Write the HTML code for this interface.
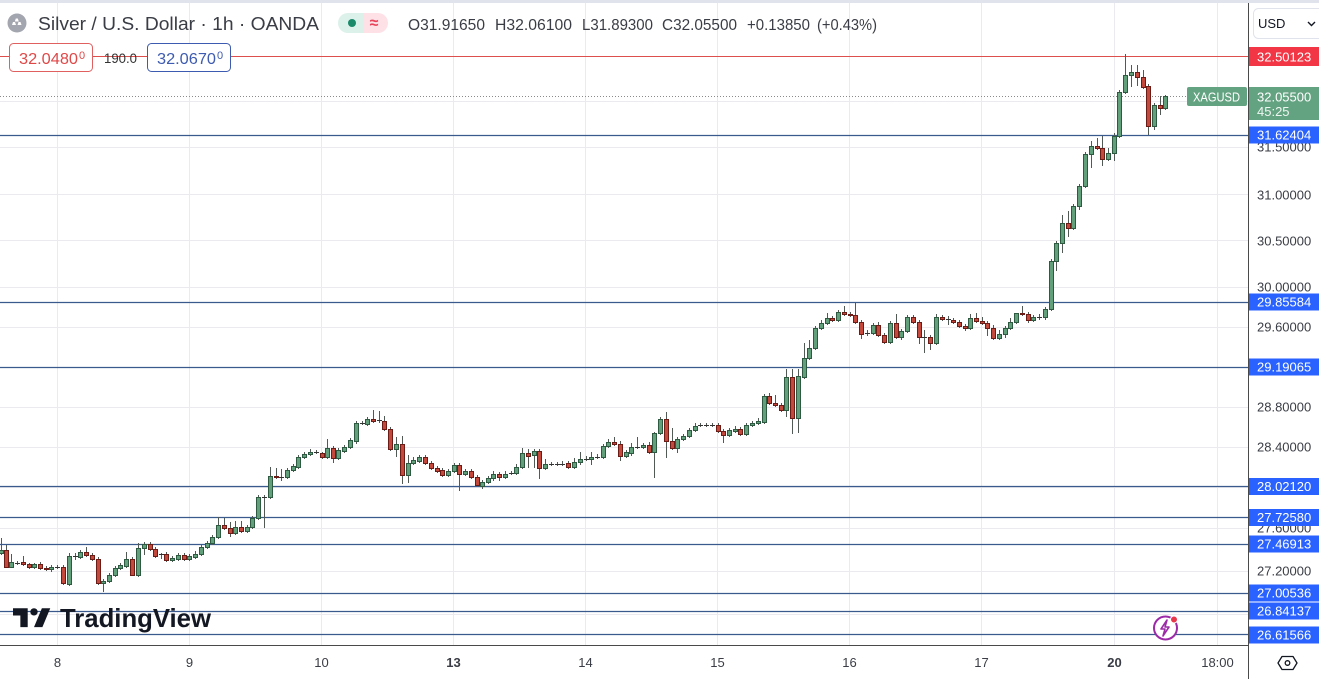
<!DOCTYPE html>
<html><head><meta charset="utf-8"><style>
html,body{margin:0;padding:0;background:#fff;overflow:hidden}
svg{display:block}
text{font-family:"Liberation Sans",sans-serif}
</style></head><body>
<svg width="1319" height="679" viewBox="0 0 1319 679" xmlns="http://www.w3.org/2000/svg">
<rect x="0" y="0" width="1319" height="679" fill="#fff"/>
<rect x="0" y="0" width="1319" height="3" fill="#e0e3eb"/>
<!-- grid -->
<g stroke="#ebebef" stroke-width="1">
<path d="M0 101.5H1248M0 147.5H1248M0 194.5H1248M0 240.5H1248M0 287.5H1248M0 327.5H1248M0 367.5H1248M0 407.5H1248M0 447.5H1248M0 487.5H1248M0 528.5H1248M0 571.5H1248M0 614.5H1248"/>
<path d="M57.5 3V645M189.5 3V645M321.5 3V645M453.5 3V645M585.5 3V645M717.5 3V645M849.5 3V645M981.5 3V645M1114.5 3V645M1217.5 3V645"/>
</g>
<!-- horizontal lines -->
<path d="M0 56.5H1248" stroke="#dc4f4c" stroke-width="1"/>
<path d="M0 96.5H1248" stroke="#8a8a8a" stroke-width="1" stroke-dasharray="1 2"/>
<g stroke="#3a5a8e" stroke-width="1.2">
<path d="M0 135.5H1248M0 302.5H1248M0 367.5H1248M0 486.5H1248M0 517.5H1248M0 544.5H1248M0 593.5H1248M0 611.5H1248M0 634.5H1248"/>
</g>
<!-- wicks -->
<g transform="translate(0.5,0)" stroke="#525a55" stroke-width="1" fill="none">
<path d="M1 538V555M6 545V568M11 554V568M17 561V565M23 556V566M29 563V569M34 563V569M40 562V570M46 566V571M51 565V572M57 565V569M63 565V585M69 553V586M75 553V560M80 550V559M86 547V557M92 553V561M98 557V585M103 579V592M109 573V583M115 566V577M120 563V570M126 552V568M132 557V576M138 543V577M144 542V555M150 542V551M155 547V558M161 553V559M166 552V562M172 556V562M178 553V561M184 553V561M189 554V561M195 551V559M201 545V556M207 541V549M212 535V545M218 517V539M224 518V530M230 522V537M235 521V535M241 521V533M247 525V533M252 516V529M258 495V520M264 495V528M270 467V499M276 468V479M281 469V481M287 468V479M293 464V472M298 455V469M304 452V459M310 449V456M316 450V454M322 452V459M327 439V459M333 446V463M338 448V460M344 445V453M350 438V449M356 421V444M362 421V425M367 417V426M373 410V423M379 411V423M384 416V431M390 427V451M396 437V457M402 436V484M408 455V483M413 457V465M419 455V463M425 455V465M431 461V470M437 466V473M442 468V477M448 469V477M454 463V473M459 463V491M465 469V476M471 469V479M477 475V487M482 480V489M488 476V484M493 471V481M499 472V481M505 471V479M511 471V475M516 464V475M522 448V469M528 449V468M534 449V468M539 449V479M545 459V470M551 462V466M557 462V466M562 461V466M568 461V469M574 458V469M580 452V465M586 456V461M591 452V465M597 454V459M603 444V459M608 439V448M614 437V446M620 441V461M626 450V458M631 443V456M637 437V449M643 443V449M649 442V454M654 432V478M660 417V435M666 412V458M672 428V450M677 437V453M683 434V441M689 428V438M695 423V432M700 423V427M706 423V427M712 423V427M718 423V433M723 429V443M729 428V437M735 426V433M740 427V436M746 423V436M752 421V427M758 418V425M764 394V424M769 393V405M775 395V407M781 403V412M786 369V417M792 369V434M798 369V433M804 343V379M809 340V360M815 326V350M821 320V330M827 313V325M832 316V322M838 310V322M844 306V316M850 312V317M855 303V324M861 320V339M867 330V336M873 323V335M878 322V337M884 333V344M890 321V344M896 314V339M901 329V340M907 315V333M913 315V324M919 320V344M924 330V353M930 335V350M936 314V345M942 315V321M948 316V325M953 318V324M959 320V328M965 324V331M970 314V330M976 313V323M982 317V325M987 321V336M993 325V340M999 330V340M1005 326V338M1010 318V330M1016 313V324M1022 306V316M1028 312V323M1033 315V322M1039 314V320M1045 307V320M1051 259V311M1056 241V271M1062 215V253M1068 211V237M1073 204V230M1079 184V210M1085 152V188M1091 141V168M1097 138V150M1102 136V166M1108 148V161M1114 133V161M1119 90V138M1125 54V94M1131 65V87M1137 65V86M1143 70V89M1148 84V135M1154 103V130M1160 96V115M1165 95V110"/>
</g>
<!-- dojis -->
<g transform="translate(0,0.5)" stroke="#333" stroke-width="1">
<path d="M15 563H20M55 567H60M73 556H78M159 554H164M262 497H267M279 477H284M314 452H319M360 423H365M377 420H382M509 473H514M549 464H554M555 464H560M560 464H565M584 459H589M595 457H600M635 447H640M698 425H703M704 425H709M710 425H715M865 333H870M922 337H927M946 319H951M1037 317H1042"/>
</g>
<!-- green bodies -->
<g transform="translate(0.5,0.5)" fill="#62a07c" stroke="#2d5a41" stroke-width="1">
<rect x="-1" y="550" width="4" height="3"/><rect x="9" y="562" width="4" height="5"/><rect x="32" y="564" width="4" height="3"/><rect x="49" y="567" width="4" height="2"/><rect x="67" y="556" width="4" height="28"/><rect x="78" y="552" width="4" height="5"/><rect x="101" y="581" width="4" height="2"/><rect x="107" y="575" width="4" height="6"/><rect x="113" y="568" width="4" height="7"/><rect x="118" y="565" width="4" height="3"/><rect x="124" y="559" width="4" height="7"/><rect x="136" y="548" width="4" height="27"/><rect x="142" y="544" width="4" height="4"/><rect x="170" y="558" width="4" height="2"/><rect x="176" y="555" width="4" height="4"/><rect x="187" y="556" width="4" height="3"/><rect x="193" y="554" width="4" height="3"/><rect x="199" y="547" width="4" height="7"/><rect x="205" y="543" width="4" height="4"/><rect x="210" y="537" width="4" height="6"/><rect x="216" y="525" width="4" height="12"/><rect x="233" y="527" width="4" height="6"/><rect x="245" y="527" width="4" height="4"/><rect x="250" y="518" width="4" height="9"/><rect x="256" y="497" width="4" height="21"/><rect x="268" y="476" width="4" height="21"/><rect x="285" y="470" width="4" height="7"/><rect x="291" y="466" width="4" height="4"/><rect x="296" y="457" width="4" height="10"/><rect x="302" y="454" width="4" height="3"/><rect x="308" y="452" width="4" height="2"/><rect x="325" y="448" width="4" height="9"/><rect x="336" y="450" width="4" height="8"/><rect x="342" y="447" width="4" height="4"/><rect x="348" y="440" width="4" height="7"/><rect x="354" y="423" width="4" height="18"/><rect x="365" y="419" width="4" height="5"/><rect x="394" y="444" width="4" height="5"/><rect x="406" y="463" width="4" height="12"/><rect x="411" y="460" width="4" height="3"/><rect x="417" y="457" width="4" height="4"/><rect x="446" y="471" width="4" height="4"/><rect x="452" y="465" width="4" height="6"/><rect x="463" y="471" width="4" height="3"/><rect x="480" y="482" width="4" height="4"/><rect x="486" y="478" width="4" height="4"/><rect x="491" y="474" width="4" height="4"/><rect x="503" y="474" width="4" height="3"/><rect x="514" y="467" width="4" height="6"/><rect x="520" y="453" width="4" height="14"/><rect x="532" y="451" width="4" height="4"/><rect x="543" y="464" width="4" height="4"/><rect x="572" y="462" width="4" height="5"/><rect x="578" y="459" width="4" height="3"/><rect x="589" y="457" width="4" height="2"/><rect x="601" y="446" width="4" height="11"/><rect x="606" y="442" width="4" height="4"/><rect x="624" y="452" width="4" height="4"/><rect x="629" y="447" width="4" height="6"/><rect x="641" y="445" width="4" height="2"/><rect x="652" y="433" width="4" height="19"/><rect x="658" y="419" width="4" height="14"/><rect x="675" y="439" width="4" height="9"/><rect x="681" y="436" width="4" height="3"/><rect x="687" y="430" width="4" height="6"/><rect x="693" y="426" width="4" height="4"/><rect x="727" y="430" width="4" height="5"/><rect x="733" y="429" width="4" height="2"/><rect x="744" y="425" width="4" height="9"/><rect x="750" y="423" width="4" height="2"/><rect x="756" y="421" width="4" height="2"/><rect x="762" y="396" width="4" height="26"/><rect x="784" y="377" width="4" height="33"/><rect x="796" y="376" width="4" height="42"/><rect x="802" y="358" width="4" height="19"/><rect x="807" y="348" width="4" height="10"/><rect x="813" y="328" width="4" height="20"/><rect x="819" y="323" width="4" height="5"/><rect x="825" y="318" width="4" height="5"/><rect x="836" y="312" width="4" height="8"/><rect x="871" y="325" width="4" height="8"/><rect x="888" y="323" width="4" height="19"/><rect x="899" y="331" width="4" height="6"/><rect x="905" y="317" width="4" height="14"/><rect x="934" y="317" width="4" height="26"/><rect x="968" y="318" width="4" height="10"/><rect x="997" y="334" width="4" height="4"/><rect x="1003" y="328" width="4" height="6"/><rect x="1008" y="322" width="4" height="6"/><rect x="1014" y="313" width="4" height="9"/><rect x="1031" y="317" width="4" height="3"/><rect x="1043" y="309" width="4" height="8"/><rect x="1049" y="261" width="4" height="48"/><rect x="1054" y="243" width="4" height="18"/><rect x="1060" y="223" width="4" height="20"/><rect x="1071" y="206" width="4" height="22"/><rect x="1077" y="186" width="4" height="20"/><rect x="1083" y="154" width="4" height="32"/><rect x="1089" y="146" width="4" height="8"/><rect x="1106" y="153" width="4" height="6"/><rect x="1112" y="136" width="4" height="17"/><rect x="1117" y="92" width="4" height="44"/><rect x="1123" y="75" width="4" height="17"/><rect x="1129" y="72" width="4" height="3"/><rect x="1152" y="105" width="4" height="21"/><rect x="1163" y="96" width="4" height="12"/>
</g>
<!-- red bodies -->
<g transform="translate(0.5,0.5)" fill="#c5483d" stroke="#6b1c16" stroke-width="1">
<rect x="4" y="550" width="4" height="17"/><rect x="21" y="562" width="4" height="2"/><rect x="27" y="564" width="4" height="3"/><rect x="38" y="564" width="4" height="4"/><rect x="44" y="568" width="4" height="1"/><rect x="61" y="567" width="4" height="16"/><rect x="84" y="552" width="4" height="3"/><rect x="90" y="555" width="4" height="4"/><rect x="96" y="559" width="4" height="24"/><rect x="130" y="559" width="4" height="16"/><rect x="148" y="544" width="4" height="5"/><rect x="153" y="549" width="4" height="7"/><rect x="164" y="554" width="4" height="6"/><rect x="182" y="555" width="4" height="4"/><rect x="222" y="525" width="4" height="3"/><rect x="228" y="528" width="4" height="5"/><rect x="239" y="527" width="4" height="4"/><rect x="274" y="476" width="4" height="1"/><rect x="320" y="453" width="4" height="4"/><rect x="331" y="448" width="4" height="10"/><rect x="371" y="419" width="4" height="2"/><rect x="382" y="421" width="4" height="8"/><rect x="388" y="429" width="4" height="20"/><rect x="400" y="444" width="4" height="31"/><rect x="423" y="457" width="4" height="6"/><rect x="429" y="463" width="4" height="5"/><rect x="435" y="468" width="4" height="3"/><rect x="440" y="470" width="4" height="5"/><rect x="457" y="465" width="4" height="9"/><rect x="469" y="471" width="4" height="6"/><rect x="475" y="477" width="4" height="8"/><rect x="497" y="474" width="4" height="3"/><rect x="526" y="453" width="4" height="3"/><rect x="537" y="451" width="4" height="17"/><rect x="566" y="463" width="4" height="4"/><rect x="612" y="442" width="4" height="2"/><rect x="618" y="444" width="4" height="12"/><rect x="647" y="445" width="4" height="7"/><rect x="664" y="419" width="4" height="22"/><rect x="670" y="441" width="4" height="7"/><rect x="716" y="425" width="4" height="6"/><rect x="721" y="431" width="4" height="4"/><rect x="738" y="429" width="4" height="5"/><rect x="767" y="396" width="4" height="7"/><rect x="773" y="403" width="4" height="2"/><rect x="779" y="405" width="4" height="5"/><rect x="790" y="377" width="4" height="41"/><rect x="830" y="318" width="4" height="2"/><rect x="842" y="312" width="4" height="2"/><rect x="848" y="314" width="4" height="1"/><rect x="853" y="315" width="4" height="7"/><rect x="859" y="322" width="4" height="12"/><rect x="876" y="325" width="4" height="10"/><rect x="882" y="335" width="4" height="7"/><rect x="894" y="323" width="4" height="14"/><rect x="911" y="317" width="4" height="5"/><rect x="917" y="322" width="4" height="15"/><rect x="928" y="337" width="4" height="6"/><rect x="940" y="317" width="4" height="2"/><rect x="951" y="320" width="4" height="2"/><rect x="957" y="322" width="4" height="4"/><rect x="963" y="326" width="4" height="2"/><rect x="974" y="318" width="4" height="3"/><rect x="980" y="321" width="4" height="2"/><rect x="985" y="323" width="4" height="5"/><rect x="991" y="328" width="4" height="10"/><rect x="1020" y="313" width="4" height="1"/><rect x="1026" y="314" width="4" height="6"/><rect x="1066" y="223" width="4" height="5"/><rect x="1095" y="146" width="4" height="2"/><rect x="1100" y="148" width="4" height="11"/><rect x="1135" y="72" width="4" height="5"/><rect x="1141" y="77" width="4" height="10"/><rect x="1146" y="86" width="4" height="40"/><rect x="1158" y="105" width="4" height="3"/>
</g>

<!-- header -->
<circle cx="17" cy="23" r="9.5" fill="#a3a6af"/>
<path d="M12 25h4l-1-3h-2zM17.5 25h4l-1-3h-2zM14.8 21.5h4l-1-3h-2z" fill="#fff"/>
<text x="38" y="30" font-size="18" fill="#3a3d45" textLength="281" lengthAdjust="spacingAndGlyphs">Silver / U.S. Dollar · 1h · OANDA</text>
<path d="M348 13h15v20h-15a10 10 0 0 1 0-20z" fill="#dcf1ea"/>
<path d="M363 13h15a10 10 0 0 1 0 20h-15z" fill="#fde1e7"/>
<circle cx="352" cy="23" r="4" fill="#1b8a6b"/>
<text x="374" y="28" font-size="16" font-weight="bold" fill="#e8435a" text-anchor="middle">≈</text>
<g font-size="16" fill="#3a3d45">
<text x="408" y="30" textLength="77" lengthAdjust="spacingAndGlyphs">O31.91650</text>
<text x="495" y="30" textLength="77" lengthAdjust="spacingAndGlyphs">H32.06100</text>
<text x="582" y="30" textLength="71" lengthAdjust="spacingAndGlyphs">L31.89300</text>
<text x="662" y="30" textLength="75" lengthAdjust="spacingAndGlyphs">C32.05500</text>
<text x="747" y="30" textLength="63" lengthAdjust="spacingAndGlyphs">+0.13850</text>
<text x="817" y="30" textLength="60" lengthAdjust="spacingAndGlyphs">(+0.43%)</text>
</g>
<!-- buy/sell boxes -->
<rect x="9.5" y="43.5" width="83" height="28" rx="4" fill="#fff" stroke="#e06060"/>
<text x="19" y="64" font-size="16" fill="#e04848" textLength="59" lengthAdjust="spacingAndGlyphs">32.0480</text>
<text x="79" y="59" font-size="11" fill="#e04848">0</text>
<text x="104" y="63" font-size="14" fill="#333" textLength="33" lengthAdjust="spacingAndGlyphs">190.0</text>
<rect x="147.5" y="43.5" width="83" height="28" rx="4" fill="#fff" stroke="#3d5bb0"/>
<text x="157" y="64" font-size="16" fill="#3d5bb0" textLength="59" lengthAdjust="spacingAndGlyphs">32.0670</text>
<text x="217" y="59" font-size="11" fill="#3d5bb0">0</text>

<!-- logo -->
<g transform="translate(13,604) scale(1.05)" fill="#131722">
<path d="M14 22H7V11H0V4h14v18zM28 22h-8l7.5-18h8L28 22z"/>
<circle cx="20" cy="7.5" r="3.5"/>
</g>
<text x="60" y="627" font-size="26" font-weight="bold" fill="#131722" textLength="151" lengthAdjust="spacingAndGlyphs">TradingView</text>

<!-- lightning icon -->
<circle cx="1165.5" cy="628" r="11.5" fill="#fff" stroke="#9c2aa8" stroke-width="2"/>
<path d="M1167 620l-6 9h4l-2 7 6-9h-4z" fill="none" stroke="#9c2aa8" stroke-width="1.6" stroke-linejoin="round"/>
<circle cx="1174" cy="619.5" r="3.5" fill="#e8364a" stroke="#fff" stroke-width="1"/>

<!-- axes -->
<rect x="1249" y="3" width="70" height="676" fill="#fff"/>
<rect x="0" y="646" width="1249" height="33" fill="#fff"/>
<path d="M1248.5 3V679" stroke="#4a4a4a" stroke-width="1"/>
<path d="M0 645.5H1248" stroke="#4a4a4a" stroke-width="1"/>

<g font-size="13" fill="#3a3d45" text-anchor="middle">
<text x="57.5" y="667">8</text>
<text x="189.5" y="667">9</text>
<text x="321.5" y="667">10</text>
<text x="453.5" y="667" font-weight="bold">13</text>
<text x="585.5" y="667">14</text>
<text x="717.5" y="667">15</text>
<text x="849.5" y="667">16</text>
<text x="981.5" y="667">17</text>
<text x="1114.5" y="667" font-weight="bold">20</text>
<text x="1217.5" y="667">18:00</text>
</g>

<g font-size="13" fill="#3a3d45">
<text x="1257" y="151.5">31.50000</text>
<text x="1257" y="199.5">31.00000</text>
<text x="1257" y="245.5">30.50000</text>
<text x="1257" y="291.5">30.00000</text>
<text x="1257" y="331.5">29.60000</text>
<text x="1257" y="411.5">28.80000</text>
<text x="1257" y="451.5">28.40000</text>
<text x="1257" y="532.5">27.60000</text>
<text x="1257" y="575.5">27.20000</text>
</g>

<!-- USD dropdown -->
<rect x="1253.5" y="8.5" width="70" height="30" rx="5" fill="#fff" stroke="#e0e3eb"/>
<text x="1258" y="28" font-size="13" fill="#131722">USD</text>
<path d="M1308 22l3.5 3.5 3.5-3.5" fill="none" stroke="#131722" stroke-width="1.4"/>

<!-- price labels -->
<rect x="1249" y="47" width="70" height="19" fill="#f23645"/>
<text x="1257" y="61.5" font-size="13" fill="#fff">32.50123</text>
<rect x="1187" y="87" width="60" height="19" rx="2" fill="#64a381"/>
<text x="1193" y="101.5" font-size="13" fill="#fff" textLength="47" lengthAdjust="spacingAndGlyphs">XAGUSD</text>
<rect x="1249" y="87" width="70" height="33" fill="#64a381"/>
<text x="1257" y="101.5" font-size="13" fill="#fff">32.05500</text>
<text x="1257" y="116" font-size="13" fill="#eef6f1">45:25</text>
<g fill="#2962ff">
<rect x="1249" y="126.5" width="70" height="17"/>
<rect x="1249" y="293.5" width="70" height="17"/>
<rect x="1249" y="358.5" width="70" height="17"/>
<rect x="1249" y="478" width="70" height="17"/>
<rect x="1249" y="509" width="70" height="17"/>
<rect x="1249" y="535.5" width="70" height="17"/>
<rect x="1249" y="584.5" width="70" height="17"/>
<rect x="1249" y="602.5" width="70" height="17"/>
<rect x="1249" y="626.5" width="70" height="17"/>
</g>
<g font-size="13" fill="#fff">
<text x="1257" y="139.5">31.62404</text>
<text x="1257" y="306.5">29.85584</text>
<text x="1257" y="371.5">29.19065</text>
<text x="1257" y="491">28.02120</text>
<text x="1257" y="522">27.72580</text>
<text x="1257" y="548.5">27.46913</text>
<text x="1257" y="597.5">27.00536</text>
<text x="1257" y="615.5">26.84137</text>
<text x="1257" y="639.5">26.61566</text>
</g>

<!-- settings icon -->
<path d="M1282 656.5h11l4 6.5-4 6.5h-11l-4-6.5z" fill="none" stroke="#131722" stroke-width="1.3" stroke-linejoin="round"/>
<circle cx="1287.5" cy="663" r="2.3" fill="none" stroke="#131722" stroke-width="1.3"/>
</svg>
</body></html>
